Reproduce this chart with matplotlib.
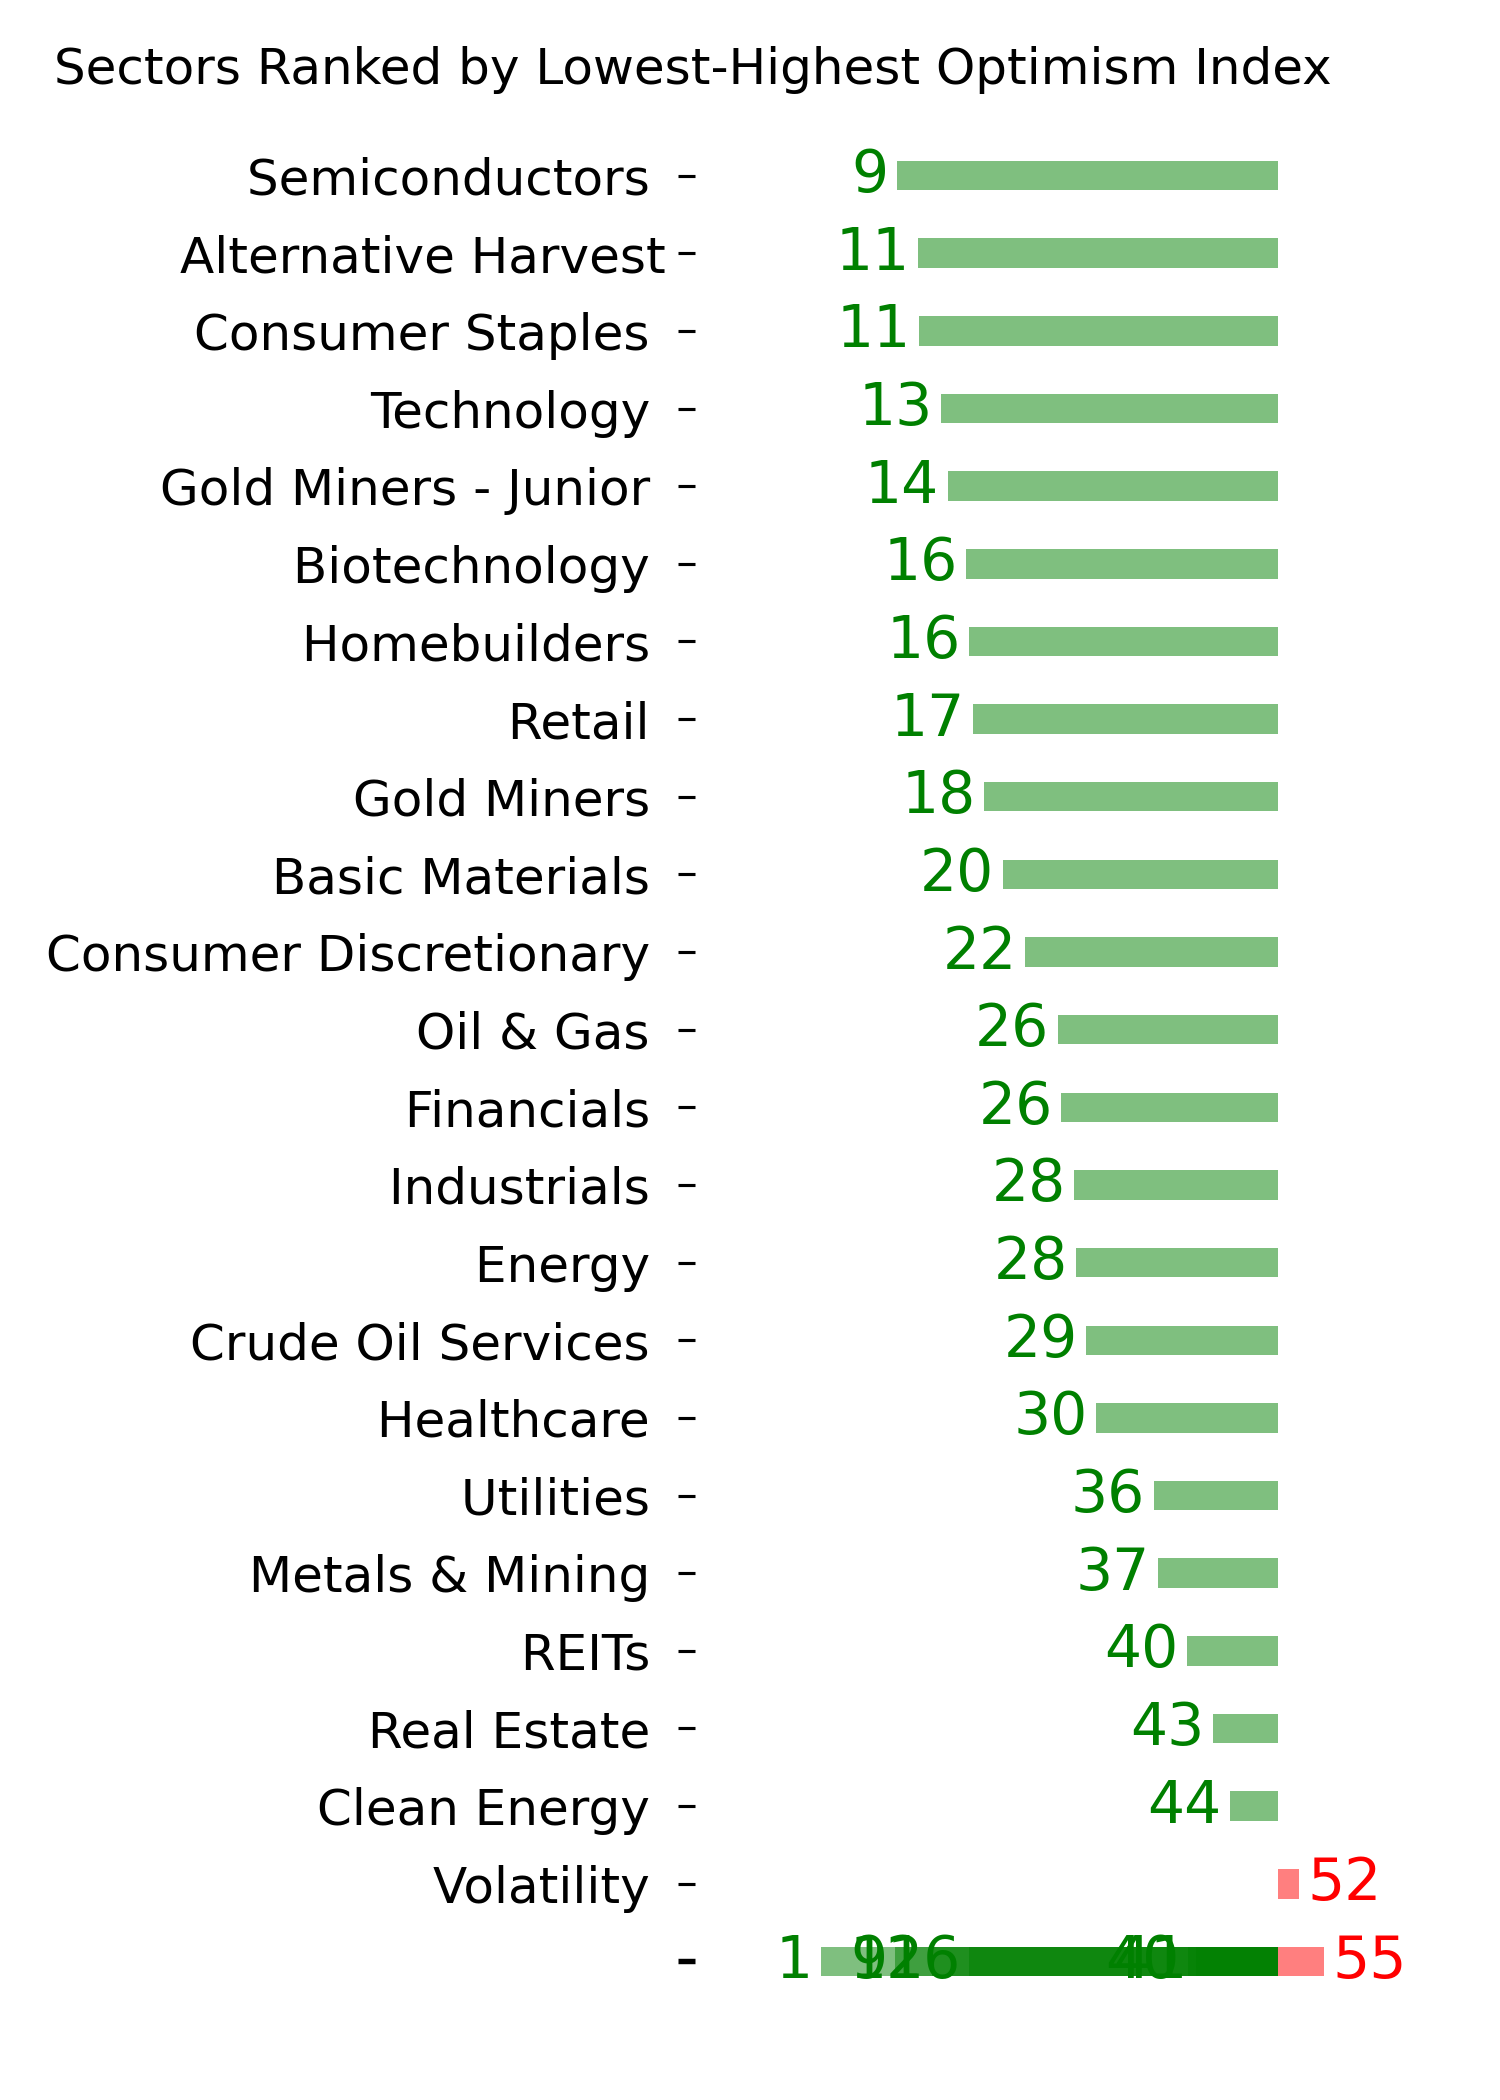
import matplotlib
matplotlib.use("Agg")
import matplotlib.pyplot as plt

# sector names (trailing space kept as in the source labels)
SECTORS = [
    "Semiconductors ", "Alternative Harvest", "Consumer Staples ", "Technology ",
    "Gold Miners - Junior ", "Biotechnology ", "Homebuilders ", "Retail ",
    "Gold Miners ", "Basic Materials ", "Consumer Discretionary ", "Oil & Gas ",
    "Financials ", "Industrials ", "Energy ", "Crude Oil Services ",
    "Healthcare ", "Utilities ", "Metals & Mining ", "REITs ",
    "Real Estate ", "Clean Energy ", "Volatility ",
]
VALUES = [
    9.2, 11.4, 11.5, 13.9, 14.6, 16.6, 16.9, 17.3,
    18.5, 20.5, 22.9, 26.4, 26.8, 28.2, 28.4, 29.5,
    30.5, 36.7, 37.2, 40.3, 43.1, 44.9, 52.3,
]
# rows without a sector name all land on the same (blank) category
UNNAMED_VALUES = [1.0, 9.0, 12.9, 16.9, 40.4, 41.2, 55.0]

NEUTRAL = 50

cats = SECTORS + [""] * len(UNNAMED_VALUES)
vals = VALUES + UNNAMED_VALUES

fig = plt.figure(figsize=(10, 14), dpi=150)
ax = fig.add_axes([695 / 1500, 1 - 2008 / 2100, (1450 - 695) / 1500, (2008 - 129) / 2100])

for cat, v in zip(cats, vals):
    col = "green" if v < NEUTRAL else "red"
    ax.barh([cat], [v - NEUTRAL], left=NEUTRAL, height=0.38, color=col, alpha=0.5)

for cat, v in zip(cats, vals):
    col = "green" if v < NEUTRAL else "red"
    y = cats.index(cat) if cat else len(SECTORS)
    if v < NEUTRAL:
        ax.text(v - 0.9, y, f"{int(v)}", ha="right", va="center",
                color=col, fontsize=28)
    else:
        ax.text(v + 0.9, y, f"{int(v)}", ha="left", va="center",
                color=col, fontsize=28)

ax.set_xlim(-12.5, 68.5)
ax.set_ylim(len(SECTORS) + 0.6, -0.6)
for s in ax.spines.values():
    s.set_visible(False)
ax.set_xticks([])
ax.tick_params(axis="y", labelsize=24, length=8, width=1.5, pad=6)
# blank row carries several stacked ticks, so it looks heavier
ax.get_yaxis().get_major_ticks()[-1].tick1line.set_markeredgewidth(2.6)

fig.text(54 / 1500, 1 - 84 / 2100, "Sectors Ranked by Lowest-Highest Optimism Index",
         fontsize=24, ha="left", va="baseline")

fig.savefig("out.png", dpi=150)
